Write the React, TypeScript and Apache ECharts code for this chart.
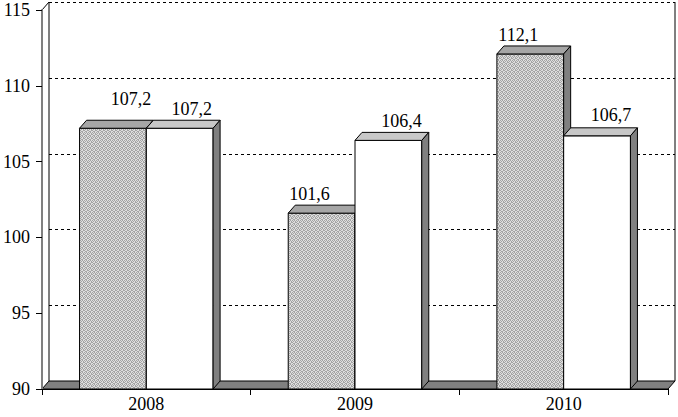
import React, { useEffect, useRef } from 'react';
import * as echarts from 'echarts';

const categories = ['2008', '2009', '2010'];
const seriesDotted = [107.2, 101.6, 112.1];
const seriesWhite = [107.2, 106.4, 106.7];
const yTicks = [90, 95, 100, 105, 110, 115];

const Y_MIN = 90;
const Y_MAX = 115;
const Y_STEP = 5;

// layout / styling constants
const DX = 7;
const DY = 8;
const BAR_FRAC = 0.32;
const FONT = '"Liberation Serif", "Times New Roman", serif';
const dottedLabelShift = [[18, -21], [-12, -11], [-12, -11]];
const whiteLabelShift = [[12, -11], [13, -11], [14, -13]];

function fmt(v: number) {
  return v.toFixed(1).replace('.', ',');
}

function makePattern() {
  const c = document.createElement('canvas');
  c.width = 4;
  c.height = 4;
  const ctx = c.getContext('2d')!;
  ctx.fillStyle = '#dedede';
  ctx.fillRect(0, 0, 4, 4);
  ctx.fillStyle = '#a4a4a4';
  const dots = [[0, 0], [2, 0], [1, 1], [3, 2], [0, 2], [2, 3], [1, 3], [3, 1]];
  dots.forEach(([x, y]) => ctx.fillRect(x, y, 1, 1));
  return c;
}

function barRenderer(pos: number, fill: any, topFill: string, shifts: number[][]) {
  return (params: any, api: any) => {
    const i = api.value(0);
    const v = api.value(1);
    const [cx, yTop] = api.coord([i, v]);
    const yBase = api.coord([i, Y_MIN])[1];
    const band = api.size([1, 0])[0];
    const w = band * BAR_FRAC;
    const x0 = cx - w + pos * w;
    const x1 = x0 + w;
    const sh = shifts[params.dataIndex];
    return {
      type: 'group',
      children: [
        {
          type: 'rect',
          shape: { x: x0, y: yTop, width: w, height: yBase - yTop },
          style: { fill, stroke: '#000', lineWidth: 1 },
        },
        {
          type: 'polygon',
          shape: { points: [[x0, yTop], [x0 + DX, yTop - DY], [x1 + DX, yTop - DY], [x1, yTop]] },
          style: { fill: topFill, stroke: '#000', lineWidth: 1 },
        },
        {
          type: 'polygon',
          shape: { points: [[x1, yTop], [x1 + DX, yTop - DY], [x1 + DX, yBase - DY], [x1, yBase]] },
          style: { fill: '#808080', stroke: '#000', lineWidth: 1 },
        },
        {
          type: 'text',
          style: {
            text: fmt(v),
            x: (x0 + x1) / 2 + sh[0],
            y: yTop - DY + sh[1],
            align: 'center',
            verticalAlign: 'middle',
            fontSize: 18,
            fontFamily: FONT,
            fill: '#000',
          },
        },
      ],
    };
  };
}

function bgRenderer(params: any, api: any) {
  const cs = params.coordSys;
  const left = cs.x;
  const right = cs.x + cs.width;
  const top = cs.y;
  const bottom = cs.y + cs.height;
  const children: any[] = [];
  children.push({
    type: 'rect',
    shape: { x: left + DX, y: top - DY, width: cs.width, height: cs.height },
    style: { fill: '#fff' },
  });
  yTicks.slice(1).forEach((v) => {
    const y = Math.round(api.coord([0, v])[1] - DY) + 0.5;
    children.push({
      type: 'line',
      shape: { x1: left + DX, y1: y, x2: right + DX, y2: y },
      style: { stroke: '#000', lineWidth: 1, lineDash: [3, 3] },
    });
  });
  children.push({
    type: 'line',
    shape: { x1: left + DX, y1: top - DY, x2: left + DX, y2: bottom - DY },
    style: { stroke: '#000', lineWidth: 1 },
  });
  children.push({
    type: 'line',
    shape: { x1: right + DX, y1: top - DY, x2: right + DX, y2: bottom - DY },
    style: { stroke: '#000', lineWidth: 1 },
  });
  children.push({
    type: 'line',
    shape: { x1: left, y1: top, x2: left + DX, y2: top - DY },
    style: { stroke: '#000', lineWidth: 1 },
  });
  children.push({
    type: 'polygon',
    shape: { points: [[left, bottom], [left + DX, bottom - DY], [right + DX, bottom - DY], [right, bottom]] },
    style: { fill: '#808080', stroke: '#000', lineWidth: 1 },
  });
  return { type: 'group', children };
}

export default function App() {
  const ref = useRef<HTMLDivElement>(null);
  useEffect(() => {
    if (!ref.current) return;
    const chart = echarts.init(ref.current, null, { renderer: 'svg' });
    const pattern = {
      image: makePattern(),
      repeat: 'repeat',
      imageWidth: 4,
      imageHeight: 4,
    };
    chart.setOption({
      animation: false,
      backgroundColor: '#fff',
      grid: { left: 40, right: 10, top: 10, bottom: 28 },
      xAxis: {
        type: 'category',
        data: categories,
        boundaryGap: true,
        axisLine: { show: true, lineStyle: { color: '#000', width: 1 } },
        axisTick: { show: true, length: 6, alignWithLabel: false, lineStyle: { color: '#000' } },
        axisLabel: { color: '#000', fontSize: 18, fontFamily: FONT, margin: 6 },
        splitLine: { show: false },
        z: 10,
      },
      yAxis: {
        type: 'value',
        min: Y_MIN,
        max: Y_MAX,
        interval: Y_STEP,
        axisLine: { show: true, lineStyle: { color: '#808080', width: 2 } },
        axisTick: { show: true, length: 6, lineStyle: { color: '#000' } },
        axisLabel: { color: '#000', fontSize: 18, fontFamily: FONT, margin: 12 },
        splitLine: { show: false },
      },
      series: [
        {
          type: 'custom',
          z: 0,
          silent: true,
          renderItem: bgRenderer,
          data: [[0, Y_MIN]],
        },
        {
          type: 'custom',
          z: 2,
          renderItem: barRenderer(0, pattern, '#a6a6a6', dottedLabelShift),
          data: categories.map((_, i) => [i, seriesDotted[i]]),
        },
        {
          type: 'custom',
          z: 3,
          renderItem: barRenderer(1, '#ffffff', '#c8c8c8', whiteLabelShift),
          data: categories.map((_, i) => [i, seriesWhite[i]]),
        },
      ],
    });
    return () => chart.dispose();
  }, []);
  return (
    <div
      ref={ref}
      style={{ position: 'fixed', left: 0, top: 0, width: 678, height: 417 }}
    />
  );
}
